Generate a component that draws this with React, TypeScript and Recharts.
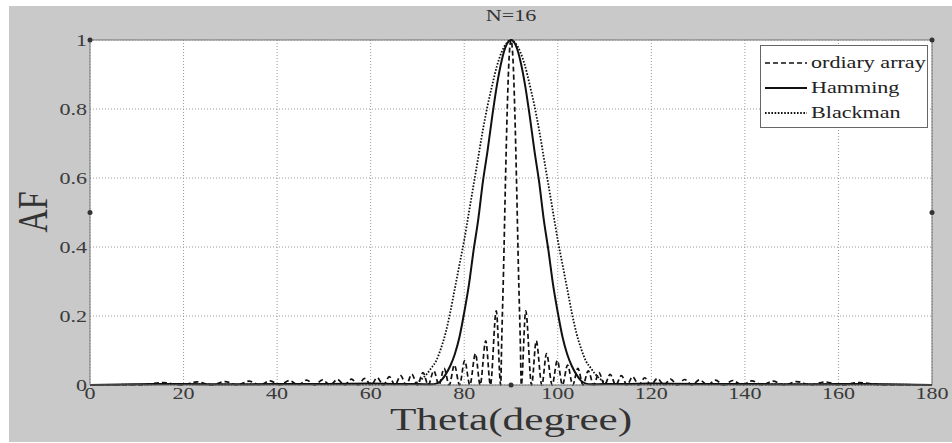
import React from "react";
import { LineChart, Line, XAxis, YAxis, CartesianGrid, Legend, ReferenceLine, ReferenceDot } from "recharts";

const SERIF = "'Liberation Serif', 'DejaVu Serif', serif";
const STRETCH = 1.3;

const xTicks = [0, 20, 40, 60, 80, 100, 120, 140, 160, 180];
const yTicks = [0, 0.2, 0.4, 0.6, 0.8, 1];

// ordinary (uniform) array: narrow main beam plus sidelobes
const ordinaryTheta = [
  0, 10.5, 15.5, 19.5, 22.9, 26.0, 28.9, 31.5, 34.0, 36.3, 38.5, 40.6, 42.6, 44.5, 46.3, 48.0,
  49.7, 51.3, 52.9, 54.4, 55.9, 57.3, 58.7, 60.1, 61.4, 62.7, 64.0, 65.2, 66.4, 67.6, 68.8, 70.0,
  71.2, 72.3, 73.5, 74.6, 75.7, 76.8, 77.9, 79.0, 80.1, 81.2, 82.4, 83.4, 84.6, 85.6, 86.85, 87.8,
  88.0, 88.4, 88.8, 89.2, 89.6, 90, 90.4, 90.8, 91.2, 91.6, 92.0,
  92.2, 93.15, 94.4, 95.4, 96.6, 97.6, 98.8, 99.9, 101.0, 102.1, 103.2, 104.3, 105.4, 106.5, 107.7,
  108.8, 110.0, 111.2, 112.4, 113.6, 114.8, 116.0, 117.3, 118.6, 119.9, 121.3, 122.7, 124.1, 125.6,
  127.1, 128.7, 130.3, 132.0, 133.7, 135.5, 137.4, 139.4, 141.5, 143.7, 146.0, 148.5, 151.1, 154.0,
  157.1, 160.5, 164.5, 169.5, 180,
];
const ordinaryAF = [
  0, 0, 0.007, 0, 0.009, 0, 0.01, 0, 0.011, 0, 0.012, 0, 0.013, 0, 0.014, 0,
  0.015, 0, 0.016, 0, 0.017, 0, 0.019, 0, 0.021, 0, 0.024, 0, 0.027, 0, 0.031, 0,
  0.036, 0, 0.041, 0, 0.048, 0, 0.058, 0, 0.071, 0, 0.091, 0, 0.128, 0, 0.215, 0,
  0.12, 0.33, 0.58, 0.8, 0.95, 1, 0.95, 0.8, 0.58, 0.33, 0.12,
  0, 0.215, 0, 0.128, 0, 0.091, 0, 0.071, 0, 0.058, 0, 0.048, 0, 0.041, 0,
  0.036, 0, 0.031, 0, 0.027, 0, 0.024, 0, 0.021, 0, 0.019, 0, 0.017, 0,
  0.016, 0, 0.015, 0, 0.014, 0, 0.013, 0, 0.012, 0, 0.011, 0, 0.01, 0,
  0.009, 0, 0.007, 0, 0,
];

// Hamming-weighted array
const hammingTheta = [
  0, 10, 20, 30, 40, 50, 60, 66, 70, 73, 74, 75, 76, 77, 78, 79, 80, 81, 82, 83, 84, 85, 86, 87, 88, 89,
  90, 91, 92, 93, 94, 95, 96, 97, 98, 99, 100, 101, 102, 103, 104, 105, 106, 107, 110, 114, 120, 130,
  140, 150, 160, 170, 180,
];
const hammingAF = [
  0, 0.002, 0.003, 0.002, 0.003, 0.003, 0.004, 0.003, 0.003, 0.002, 0.004, 0.012, 0.03, 0.055, 0.09,
  0.14, 0.21, 0.29, 0.39, 0.48, 0.59, 0.68, 0.78, 0.87, 0.94, 0.985,
  1, 0.985, 0.94, 0.87, 0.78, 0.68, 0.59, 0.48, 0.39, 0.29, 0.21, 0.14, 0.09, 0.055, 0.03, 0.012, 0.004,
  0.002, 0.003, 0.003, 0.004, 0.003, 0.003, 0.002, 0.003, 0.002, 0,
];

// Blackman-weighted array
const blackmanTheta = [
  0, 10, 20, 30, 40, 50, 60, 66, 69, 70, 71, 72, 73, 74, 75, 76, 77, 78, 79, 80, 81, 82, 83, 84, 85, 86,
  87, 88, 89, 90, 91, 92, 93, 94, 95, 96, 97, 98, 99, 100, 101, 102, 103, 104, 105, 106, 107, 108, 109,
  110, 111, 114, 120, 130, 140, 150, 160, 170, 180,
];
const blackmanAF = [
  0, 0.001, 0.002, 0.001, 0.002, 0.002, 0.002, 0.002, 0.003, 0.008, 0.018, 0.032, 0.05, 0.07, 0.105,
  0.15, 0.21, 0.28, 0.35, 0.42, 0.5, 0.58, 0.66, 0.74, 0.81, 0.87, 0.925, 0.965, 0.99,
  1, 0.99, 0.965, 0.925, 0.87, 0.81, 0.74, 0.66, 0.58, 0.5, 0.42, 0.35, 0.28, 0.21, 0.15, 0.105, 0.07,
  0.05, 0.032, 0.018, 0.008, 0.003, 0.002, 0.002, 0.002, 0.001, 0.002, 0.001, 0.001, 0,
];

// small selection handles visible on the figure
const handleX = [0, 180, 0, 180, 90];
const handleY = [1, 1, 0.5, 0.5, 0];

const zip = (t: number[], v: number[]) => t.map((x, i) => ({ t: x, v: v[i] }));
const ordinaryData = zip(ordinaryTheta, ordinaryAF);
const hammingData = zip(hammingTheta, hammingAF);
const blackmanData = zip(blackmanTheta, blackmanAF);

const series = [
  { name: "ordiary array", data: ordinaryData, dash: "5 3", width: 1.7 },
  { name: "Hamming", data: hammingData, dash: undefined, width: 2 },
  { name: "Blackman", data: blackmanData, dash: "1.6 1.6", width: 1.8 },
];

function XTick({ x, y, payload }: any) {
  return (
    <g transform={`translate(${x},${y})`}>
      <text transform={`scale(${STRETCH},1)`} textAnchor="middle" y={14} fill="#3a3a3a" fontSize={17} fontFamily={SERIF}>
        {payload.value}
      </text>
    </g>
  );
}

function YTick({ x, y, payload }: any) {
  return (
    <g transform={`translate(${x - 3},${y})`}>
      <text transform={`scale(${STRETCH},1)`} textAnchor="end" y={6} fill="#3a3a3a" fontSize={17} fontFamily={SERIF}>
        {payload.value}
      </text>
    </g>
  );
}

function LegendBox() {
  return (
    <div
      style={{
        width: 168,
        height: 83,
        boxSizing: "border-box",
        border: "1px solid #666",
        background: "#fff",
        paddingTop: 4,
      }}
    >
      {series.map((s) => (
        <div key={s.name} style={{ height: 25, display: "flex", alignItems: "center" }}>
          <svg width={50} height={10} style={{ flex: "none" }}>
            <line x1={4} x2={46} y1={5} y2={5} stroke="#111" strokeWidth={s.width} strokeDasharray={s.dash} />
          </svg>
          <span
            style={{
              fontFamily: SERIF,
              fontSize: 17,
              color: "#222",
              display: "inline-block",
              transform: `scaleX(${STRETCH})`,
              transformOrigin: "left center",
              whiteSpace: "nowrap",
            }}
          >
            {s.name}
          </span>
        </div>
      ))}
    </div>
  );
}

export default function App() {
  return (
    <div style={{ position: "absolute", left: 0, top: 0, width: 952, height: 443, background: "#fff", overflow: "hidden" }}>
      <div style={{ position: "absolute", left: 9, top: 6, width: 943, height: 436, background: "#c9c9c9" }} />
      <div style={{ position: "absolute", left: 0, top: 0 }}>
        <LineChart width={952} height={443} margin={{ top: 40, right: 20, bottom: 0, left: 0 }}>
          <CartesianGrid fill="#fff" stroke="#9a9a9a" strokeDasharray="1 2" horizontalValues={yTicks} verticalValues={xTicks} />
          <XAxis
            dataKey="t"
            type="number"
            domain={[0, 180]}
            ticks={xTicks}
            interval={0}
            height={58}
            tickLine={false}
            tickSize={0}
            tickMargin={0}
            axisLine={{ stroke: "#777" }}
            tick={<XTick />}
            allowDuplicatedCategory={false}
          />
          <YAxis
            type="number"
            domain={[0, 1]}
            ticks={yTicks}
            interval={0}
            width={90}
            tickLine={false}
            tickSize={0}
            tickMargin={0}
            axisLine={{ stroke: "#777" }}
            tick={<YTick />}
          />
          <ReferenceLine x={180} stroke="#777" />
          <ReferenceLine y={1} stroke="#777" />
          {series.map((s) => (
            <Line
              key={s.name}
              data={s.data}
              dataKey="v"
              name={s.name}
              type="monotone"
              stroke="#111"
              strokeWidth={s.width}
              strokeDasharray={s.dash}
              dot={false}
              activeDot={false}
              isAnimationActive={false}
            />
          ))}
          {handleX.map((hx, i) => (
            <ReferenceDot key={i} x={hx} y={handleY[i]} r={2.5} fill="#333" stroke="none" />
          ))}
          <Legend
            layout="vertical"
            align="center"
            verticalAlign="middle"
            content={<LegendBox />}
            wrapperStyle={{ position: "absolute", left: 760, top: 45, width: 168, height: 83 }}
          />
        </LineChart>
      </div>
      <div
        style={{
          position: "absolute",
          left: 511,
          top: 6,
          transform: `translateX(-50%) scaleX(${STRETCH})`,
          fontFamily: SERIF,
          fontSize: 17,
          lineHeight: "20px",
          color: "#333",
          whiteSpace: "nowrap",
        }}
      >
        N=16
      </div>
      <div
        style={{
          position: "absolute",
          left: 511,
          top: 403,
          transform: `translateX(-50%) scaleX(1.35)`,
          fontFamily: SERIF,
          fontSize: 32,
          lineHeight: "32px",
          color: "#333",
          whiteSpace: "nowrap",
        }}
      >
        Theta(degree)
      </div>
      <div
        style={{
          position: "absolute",
          left: 33,
          top: 212,
          transform: "translate(-50%, -50%) rotate(-90deg) scaleY(1.3)",
          fontFamily: SERIF,
          fontSize: 32,
          lineHeight: "32px",
          color: "#333",
          whiteSpace: "nowrap",
        }}
      >
        AF
      </div>
    </div>
  );
}
